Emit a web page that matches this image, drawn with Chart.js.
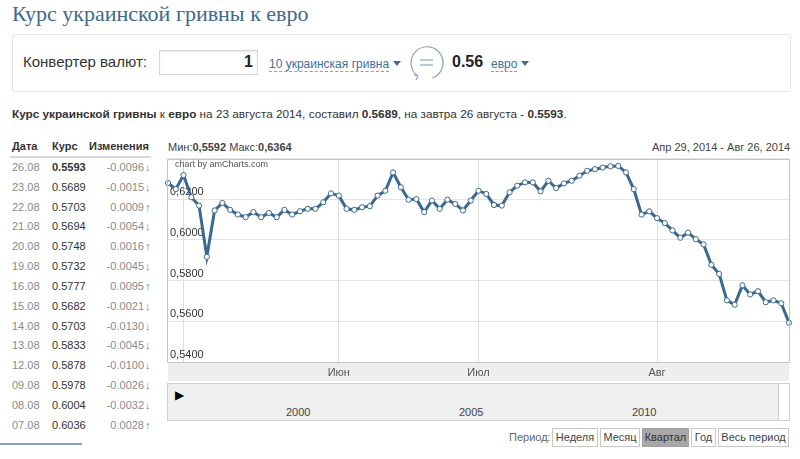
<!DOCTYPE html>
<html>
<head>
<meta charset="utf-8">
<script src="https://cdn.jsdelivr.net/npm/chart.js@4.4.0/dist/chart.umd.min.js"></script>
<style>
  body { margin: 0; width: 800px; height: 459px; overflow: hidden; background: #fff;
         font-family: 'Liberation Sans', Arial, sans-serif; color: #333; position: relative; }
  .abs { position: absolute; white-space: nowrap; }
  h1 { position: absolute; left: 12px; top: 1px; margin: 0; font: normal 22px 'Liberation Serif', serif; color: #3d6a8e; }
  .conv { left: 12px; top: 34px; width: 777px; height: 56px; border: 1px solid #e6e6e6; border-radius: 2px; }
  .link { color: #41709e; font-size: 12px; border-bottom: 1px dashed #7fa0c0; line-height: 14px; }
  .tri { display: inline-block; width: 0; height: 0; border-left: 4px solid transparent; border-right: 4px solid transparent;
         border-top: 5px solid #41709e; margin-left: 4px; vertical-align: 2px; }
  .info { left: 12px; top: 107px; font-size: 11.75px; color: #333; }
  .th { top: 140px; font-size: 11px; font-weight: bold; color: #333; }
  .row { font-size: 11px; height: 14px; line-height: 14px; }
  .d { color: #8a8a8a; }
  .dn { color: #e06060; font-weight: bold; }
  .up { color: #40a040; font-weight: bold; }
  .btn { top: 428px; line-height: 17px; border: 1px solid #c8c8c8; background: #fff;
         font-size: 11px; color: #444; text-align: center; box-sizing: border-box; height: 19px; }
</style>
</head>
<body>
<h1>Курс украинской гривны к евро</h1>

<div class="abs conv"></div>
<div class="abs" style="left:23px;top:53px;font-size:15px;color:#333;">Конвертер валют:</div>
<div class="abs" style="left:159px;top:50px;width:97px;height:23px;border:1px solid #d6d6d6;box-shadow:inset 0 1px 2px #e8e8e8;"></div>
<div class="abs" style="left:244px;top:53px;font-size:16px;font-weight:bold;color:#222;">1</div>
<div class="abs" style="left:269px;top:54px;"><span class="link">10 украинская гривна</span><span class="tri"></span></div>
<svg class="abs" style="left:408px;top:44px;" width="38" height="40" viewBox="0 0 38 40">
  <path d="M10 32 A16 16 0 1 1 24 34" fill="none" stroke="#8aa6c0" stroke-width="1.2"/>
  <path d="M10 32 L8 36 M10 32 L6 31" stroke="#8aa6c0" stroke-width="1.2" fill="none"/>
  <line x1="12" y1="16" x2="25" y2="16" stroke="#8aa6c0" stroke-width="1.2"/>
  <line x1="12" y1="21" x2="25" y2="21" stroke="#8aa6c0" stroke-width="1.2"/>
</svg>
<div class="abs" style="left:452px;top:53px;font-size:16px;font-weight:bold;color:#222;">0.56</div>
<div class="abs" style="left:491px;top:54px;"><span class="link">евро</span><span class="tri"></span></div>

<div class="abs info"><b>Курс украинской гривны</b> к <b>евро</b> на 23 августа 2014, составил <b>0.5689</b>, на завтра 26 августа - <b>0.5593</b>.</div>

<div class="abs th" style="left:12px;">Дата</div>
<div class="abs th" style="left:52px;">Курс</div>
<div class="abs th" style="left:89px;">Изменения</div>
<div class="abs" style="left:10px;top:156px;width:141px;height:2px;background:#d8d8d8;"></div>
<div id="table"></div>
<div class="abs" style="left:0px;top:443px;width:82px;height:2px;background:#8aa3bb;"></div>

<div class="abs" style="left:168px;top:141px;font-size:11px;color:#444;">Мин:<b>0,5592</b> Макс:<b>0,6364</b></div>
<div class="abs" style="left:652px;top:141px;font-size:11px;color:#444;">Апр 29, 2014 - Авг 26, 2014</div>

<div class="abs" style="left:160px;top:150px;width:640px;height:231px;">
  <canvas id="rate" width="640" height="231"></canvas>
</div>
<div class="abs" style="left:175px;top:159px;font-size:9px;color:#555;">chart by amCharts.com</div>

<div class="abs" style="left:167px;top:383px;width:610px;height:36px;background:#efefef;border:1px solid #cfcfcf;"></div>
<div class="abs" style="left:778px;top:383px;width:10px;height:36px;background:#fff;border:1px solid #cfcfcf;"></div>
<div class="abs" style="left:175px;top:388px;font-size:12px;color:#000;">&#9654;</div>
<div class="abs" style="left:286px;top:406px;font-size:11px;color:#444;">2000</div>
<div class="abs" style="left:459px;top:406px;font-size:11px;color:#444;">2005</div>
<div class="abs" style="left:632px;top:406px;font-size:11px;color:#444;">2010</div>

<div class="abs" style="left:509px;top:431px;font-size:11px;color:#666;">Период:</div>
<div class="abs btn" style="left:552px;width:46px;">Неделя</div>
<div class="abs btn" style="left:600px;width:40px;">Месяц</div>
<div class="abs btn" style="left:642px;width:47px;background:#a8a8a8;border-color:#a0a0a0;color:#333;">Квартал</div>
<div class="abs btn" style="left:691px;width:25px;">Год</div>
<div class="abs btn" style="left:718px;width:71px;">Весь период</div>

<script>
/* ============================================================
   DATA
   ============================================================ */

const tableDates   = ['26.08', '23.08', '22.08', '21.08', '20.08', '19.08', '16.08', '15.08', '14.08', '13.08', '12.08', '09.08', '08.08', '07.08'];
const tableRates   = ['0.5593', '0.5689', '0.5703', '0.5694', '0.5748', '0.5732', '0.5777', '0.5682', '0.5703', '0.5833', '0.5878', '0.5978', '0.6004', '0.6036'];
const tableChanges = ['-0.0096', '-0.0015', '0.0009', '-0.0054', '0.0016', '-0.0045', '0.0095', '-0.0021', '-0.0130', '-0.0045', '-0.0100', '-0.0026', '-0.0032', '0.0028'];

// daily rate, Apr 29 -> Aug 26 2014 (business days only, equal spacing)
const rates = [
  0.6280, 0.6250, 0.6319, 0.6210, 0.6169, 0.5917, 0.6145, 0.6182, 0.6148, 0.6125,
  0.6112, 0.6137, 0.6112, 0.6133, 0.6112, 0.6148, 0.6125, 0.6141, 0.6153, 0.6153,
  0.6185, 0.6229, 0.6218, 0.6153, 0.6148, 0.6161, 0.6166, 0.6218, 0.6242, 0.6332,
  0.6259, 0.6198, 0.6201, 0.6137, 0.6194, 0.6153, 0.6198, 0.6177, 0.6145, 0.6194,
  0.6242, 0.6226, 0.6172, 0.6169, 0.6234, 0.6267, 0.6283, 0.6283, 0.6239, 0.6291,
  0.6255, 0.6278, 0.6291, 0.6316, 0.6340, 0.6348, 0.6356, 0.6362, 0.6364, 0.6332,
  0.6250, 0.6125, 0.6141, 0.6107, 0.6083, 0.6047, 0.6011, 0.6036, 0.6004, 0.5978,
  0.5878, 0.5833, 0.5703, 0.5682, 0.5777, 0.5732, 0.5748, 0.5694, 0.5703, 0.5689,
  0.5593,
];

// index of first trading day of each month and its label
const monthStarts = [2, 22, 40, 63];
const monthNames  = ['', 'Июн', 'Июл', 'Авг'];

const yTicks = { min: 0.54, max: 0.64, step: 0.02 };

/* ============================================================
   TABLE
   ============================================================ */

function renderTable() {
  const el = document.getElementById('table');
  el.innerHTML = tableDates.map((d, i) => {
    const top  = 160 + i * 19.83;
    const down = tableChanges[i].startsWith('-');
    return `
      <div class="abs row d" style="left:12px;top:${top}px">${d}</div>
      <div class="abs row" style="left:52px;top:${top}px;color:#333;${i === 0 ? 'font-weight:bold' : ''}">${tableRates[i]}</div>
      <div class="abs row" style="right:${800 - 144}px;top:${top}px;color:#8a8a8a">${tableChanges[i]}</div>
      <div class="abs row ${down ? 'dn' : 'up'}" style="left:145px;top:${top}px">${down ? '&#8595;' : '&#8593;'}</div>`;
  }).join('');
}

/* ============================================================
   CHART
   ============================================================ */

const framePlugin = {
  id: 'frame',
  beforeDraw(chart) {
    const { ctx, chartArea: a } = chart;
    ctx.save();
    ctx.fillStyle = '#eeeeee';
    ctx.fillRect(a.left, a.bottom, a.right - a.left, 19);
    ctx.restore();
  },
  afterDatasetsDraw(chart) {
    const { ctx, chartArea: a } = chart;
    ctx.save();
    ctx.strokeStyle = '#c4c4c4';
    ctx.lineWidth = 1;
    ctx.strokeRect(Math.round(a.left) - 0.5, Math.round(a.top) + 0.5, Math.round(a.right - a.left) + 1, Math.round(a.bottom - a.top));
    ctx.strokeStyle = '#d4d4d4';
    ctx.beginPath();
    ctx.moveTo(a.left, a.bottom + 19.5);
    ctx.lineTo(a.right, a.bottom + 19.5);
    ctx.stroke();
    ctx.restore();
  },
};

function renderChart() {
  Chart.defaults.font.family = "'Liberation Sans', Arial, sans-serif";
  const labels = rates.map((_, i) => i);

  new Chart(document.getElementById('rate'), {
    type: 'line',
    data: {
      labels,
      datasets: [{
        data: rates,
        borderColor: '#3b6891',
        borderWidth: 3,
        pointRadius: 2.6,
        pointBorderWidth: 1,
        pointBackgroundColor: '#ffffff',
        pointBorderColor: '#3b6891',
        tension: 0,
      }],
    },
    options: {
      responsive: false,
      animation: false,
      layout: { padding: { left: 8, right: 11, top: 6, bottom: 0 } },
      plugins: { legend: { display: false }, tooltip: { enabled: false } },
      scales: {
        x: {
          type: 'category',
          offset: false,
          afterFit: s => { s.height = 19; },
          border: { display: false },
          grid: {
            drawTicks: false,
            color: c => monthStarts.includes(c.index) ? '#dddddd' : 'rgba(0,0,0,0)',
          },
          ticks: {
            autoSkip: false,
            maxRotation: 0,
            padding: 4,
            color: '#555',
            font: { size: 11 },
            callback: (v, i) => {
              const k = monthStarts.indexOf(i);
              return k >= 0 ? monthNames[k] : '';
            },
          },
        },
        y: {
          min: yTicks.min,
          max: yTicks.max,
          afterFit: s => { s.width = 0; },
          border: { display: false },
          grid: { drawTicks: false, color: '#e4e4e4' },
          ticks: {
            stepSize: yTicks.step,
            mirror: true,
            padding: 2,
            labelOffset: -7,
            color: '#333',
            font: { size: 11 },
            callback: v => v > yTicks.max - 0.001 ? '' : v.toFixed(4).replace('.', ','),
          },
        },
      },
    },
    plugins: [framePlugin],
  });
}

renderTable();
renderChart();
</script>
</body>
</html>
